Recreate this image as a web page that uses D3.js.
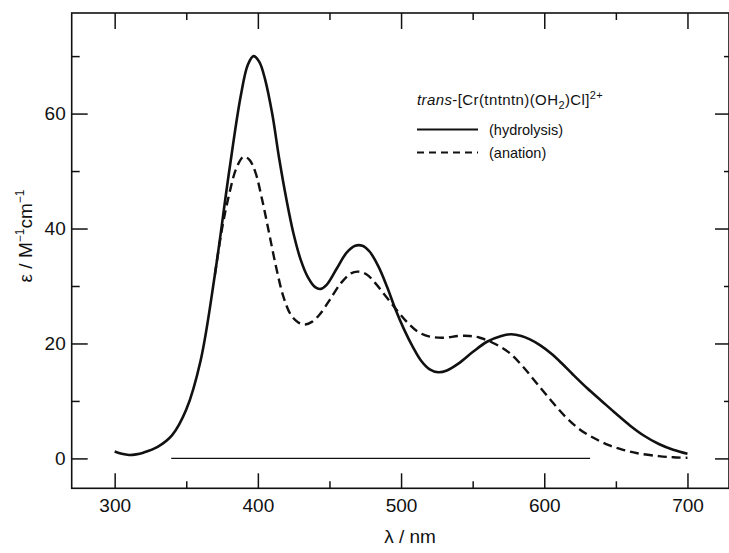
<!DOCTYPE html>
<html>
<head>
<meta charset="utf-8">
<script src="https://cdn.jsdelivr.net/npm/d3@7"></script>
<style>
  html, body { margin: 0; padding: 0; background: #fff; }
  svg { display: block; }
  text { font-family: "Liberation Sans", Arial, sans-serif; fill: #111; }
</style>
</head>
<body>
<svg id="chart" width="729" height="553"></svg>
<script>
// ---- data ----
const hydrolysisNm = [300,305,310,315,320,330,340,350,360,370,380,388,393,397,401,405,410,415,420,425,430,435,440,444,448,455,462,468,473,478,484,490,496,502,508,514,520,526,532,540,550,560,570,577,584,590,597,605,612,620,630,640,650,660,670,680,690,700];
const hydrolysisEps = [1.2,0.8,0.6,0.7,1.0,2.0,4.0,8.5,17,32,50,63,68.5,70,69,66,60,52,45,39,34.5,31.5,29.8,29.5,30.2,33,35.8,37,37,36,33.5,30,26,22.5,19.5,17,15.5,15,15.3,16.5,18.5,20.3,21.3,21.6,21.3,20.7,19.7,18.2,16.6,14.6,12.2,10.0,7.8,5.7,3.9,2.5,1.5,0.8];
const anationNm = [370,375,380,385,390,394,398,403,408,413,418,423,428,433,438,443,450,458,465,470,476,482,490,498,505,512,520,530,540,548,555,565,575,585,595,605,615,625,635,645,655,665,680,690,700];
const anationEps = [32,40,46,50.5,52.5,52,50,45,39,33,28,25,23.7,23.3,23.8,25,27.5,30.5,32.2,32.5,32,30.5,28,25.5,23.5,22,21.2,21,21.3,21.3,21,20,18.5,16,13,10,7.2,5.0,3.5,2.3,1.5,0.9,0.4,0.2,0.1];
const baselineNm = [339.5, 632];
const baselineEps = [0, 0];
const xMajorTicks = [300, 400, 500, 600, 700];
const xMinorTicks = [350, 450, 550, 650];
const yMajorTicks = [0, 20, 40, 60];
const yMinorTicks = [10, 30, 50, 70];

// ---- layout ----
const svg = d3.select("#chart");
const L = 71.7, R = 729, T = 13, B = 488.3;
const x = d3.scaleLinear().domain([270, 729]).range([L, R]);
const y = d3.scaleLinear().domain([-5.2, 77.5]).range([B, T]);

const stroke = "#111";

// frame
svg.append("rect").attr("x", L).attr("y", T).attr("width", R - L).attr("height", B - T)
  .attr("fill", "none").attr("stroke", stroke).attr("stroke-width", 1.6);

function styleAxis(g) {
  g.select(".domain").remove();
  g.selectAll("line").attr("stroke", stroke).attr("stroke-width", 1.5);
  g.selectAll("text").attr("font-size", 19).attr("fill", "#111")
    .attr("font-family", "'Liberation Sans', Arial, sans-serif");
}

// bottom
svg.append("g").attr("transform", `translate(0,${B})`)
  .call(d3.axisBottom(x).tickValues(xMajorTicks).tickSize(-15).tickPadding(10).tickFormat(d3.format("d")))
  .call(styleAxis);
svg.append("g").attr("transform", `translate(0,${B})`)
  .call(d3.axisBottom(x).tickValues(xMinorTicks).tickSize(-7).tickFormat(""))
  .call(styleAxis);
// top
svg.append("g").attr("transform", `translate(0,${T})`)
  .call(d3.axisTop(x).tickValues(xMajorTicks).tickSize(-16).tickFormat(""))
  .call(styleAxis);
svg.append("g").attr("transform", `translate(0,${T})`)
  .call(d3.axisTop(x).tickValues(xMinorTicks).tickSize(-7).tickFormat(""))
  .call(styleAxis);
// left
svg.append("g").attr("transform", `translate(${L},0)`)
  .call(d3.axisLeft(y).tickValues(yMajorTicks).tickSize(-16).tickPadding(6).tickFormat(d3.format("d")))
  .call(styleAxis);
svg.append("g").attr("transform", `translate(${L},0)`)
  .call(d3.axisLeft(y).tickValues(yMinorTicks).tickSize(-8).tickFormat(""))
  .call(styleAxis);
// right
svg.append("g").attr("transform", `translate(${R},0)`)
  .call(d3.axisRight(y).tickValues(yMajorTicks).tickSize(-14).tickFormat(""))
  .call(styleAxis);
svg.append("g").attr("transform", `translate(${R},0)`)
  .call(d3.axisRight(y).tickValues(yMinorTicks).tickSize(-5).tickFormat(""))
  .call(styleAxis);

// axis titles
svg.append("text").attr("x", 410).attr("y", 543).attr("text-anchor", "middle")
  .attr("font-size", 19).text("λ / nm");

const yt = svg.append("text").attr("transform", "translate(32,236) rotate(-90)")
  .attr("text-anchor", "middle").attr("font-size", 19);
yt.append("tspan").text("ε / M");
yt.append("tspan").attr("font-size", 12).attr("dy", -8).text("−1");
yt.append("tspan").attr("dy", 8).text("cm");
yt.append("tspan").attr("font-size", 12).attr("dy", -8).text("−1");

// curves
const line = d3.line().x(d => x(d[0])).y(d => y(d[1])).curve(d3.curveCatmullRom.alpha(0.5));
const hyd = hydrolysisNm.map((n, i) => [n, hydrolysisEps[i]]);
const ana = anationNm.map((n, i) => [n, anationEps[i]]);
const base = baselineNm.map((n, i) => [n, baselineEps[i]]);

svg.append("path").datum(base).attr("d", d3.line().x(d => x(d[0])).y(d => y(d[1])))
  .attr("fill", "none").attr("stroke", stroke).attr("stroke-width", 1.4);
svg.append("path").datum(ana).attr("d", line)
  .attr("fill", "none").attr("stroke", stroke).attr("stroke-width", 2.4).attr("stroke-dasharray", "9,5");
svg.append("path").datum(hyd).attr("d", line)
  .attr("fill", "none").attr("stroke", stroke).attr("stroke-width", 2.6);

// legend
const lg = svg.append("g");
const t1 = lg.append("text").attr("x", 417).attr("y", 105).attr("font-size", 15).attr("letter-spacing", 0.4);
t1.append("tspan").attr("font-style", "italic").text("trans");
t1.append("tspan").text("-[Cr(tntntn)(OH");
t1.append("tspan").attr("font-size", 11).attr("dy", 4).text("2");
t1.append("tspan").attr("dy", -4).text(")Cl]");
t1.append("tspan").attr("font-size", 11).attr("dy", -6).text("2+");

lg.append("line").attr("x1", 417).attr("x2", 478).attr("y1", 129.5).attr("y2", 129.5)
  .attr("stroke", stroke).attr("stroke-width", 2);
lg.append("text").attr("x", 489).attr("y", 134.5).attr("font-size", 14.5).text("(hydrolysis)");
lg.append("line").attr("x1", 417).attr("x2", 478).attr("y1", 152.5).attr("y2", 152.5)
  .attr("stroke", stroke).attr("stroke-width", 2).attr("stroke-dasharray", "7,5");
lg.append("text").attr("x", 489).attr("y", 157.5).attr("font-size", 14.5).text("(anation)");
</script>
</body>
</html>
